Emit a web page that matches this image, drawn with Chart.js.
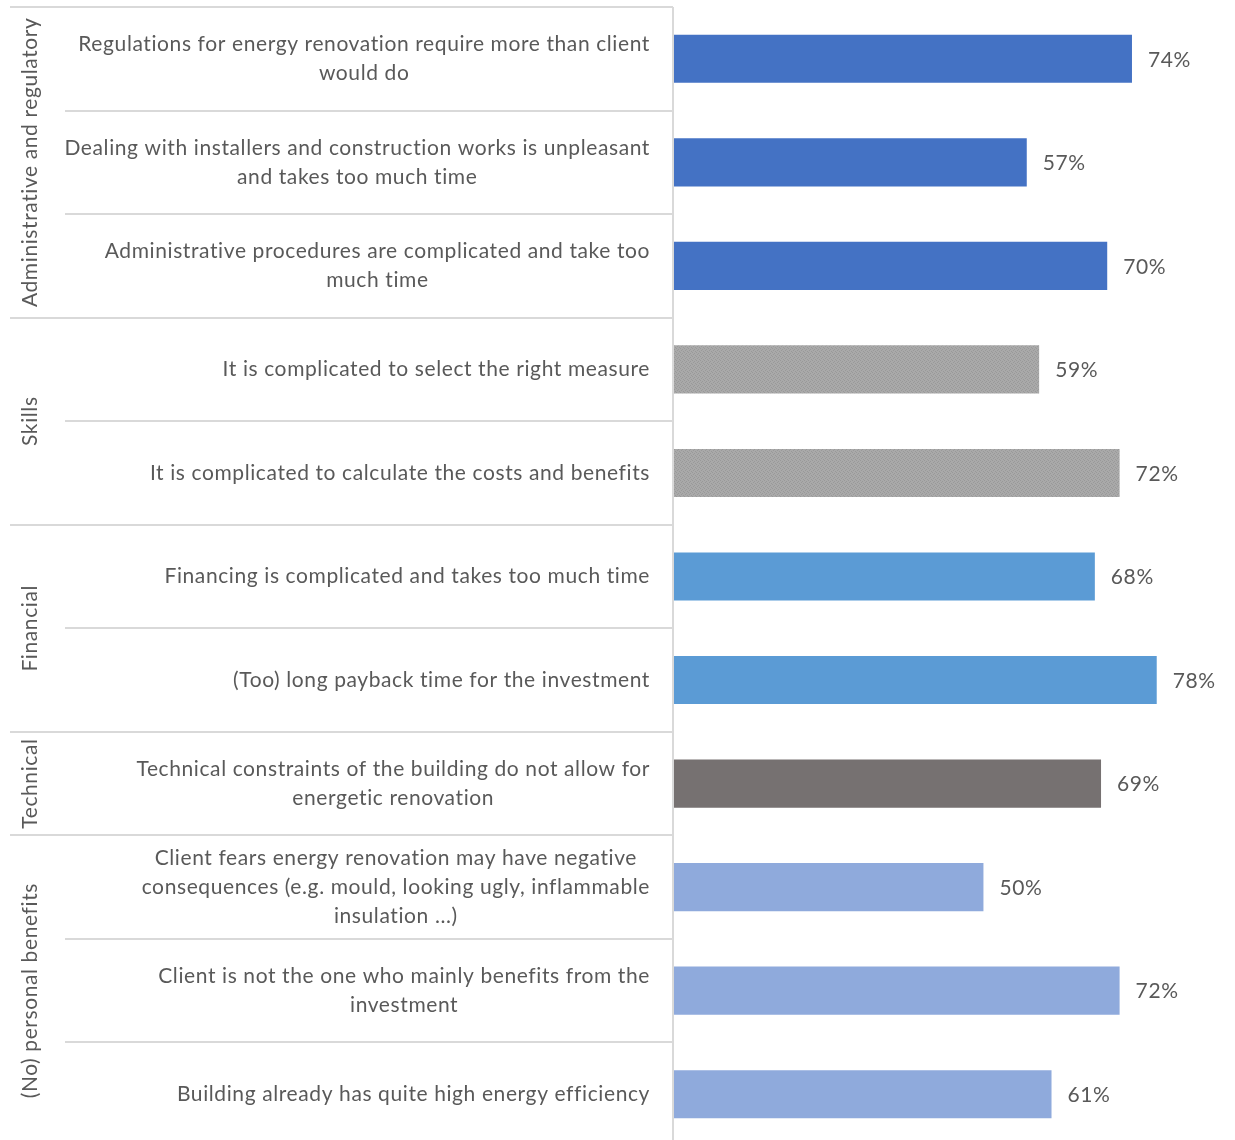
<!DOCTYPE html>
<html>
<head>
<meta charset="utf-8">
<script src="https://cdn.jsdelivr.net/npm/chart.js@4.4.1/dist/chart.umd.min.js"></script>
<style>
  html, body { margin: 0; padding: 0; background: #fff; overflow: hidden; }
  #wrap { width: 1235px; height: 1146px; position: relative; }
</style>
</head>
<body>
<div id="wrap"><canvas id="chart"></canvas></div>
<script>
const categories = [
  ["Regulations for energy renovation require more than client", "would do"],
  ["Dealing with installers and construction works is unpleasant", "and takes too much time"],
  ["Administrative procedures are complicated and take too", "much time"],
  ["It is complicated to select the right measure"],
  ["It is complicated to calculate the costs and benefits"],
  ["Financing is complicated and takes too much time"],
  ["(Too) long payback time for the investment"],
  ["Technical constraints of the building do not allow for", "energetic renovation"],
  ["Client fears energy renovation may have negative", "consequences (e.g. mould, looking ugly, inflammable", "insulation ...)"],
  ["Client is not the one who mainly benefits from the", "investment"],
  ["Building already has quite high energy efficiency"],
];
const values = [74, 57, 70, 59, 72, 68, 78, 69, 50, 72, 61];
const groupNames = ["Administrative and regulatory", "Skills", "Financial", "Technical", "(No) personal benefits"];
const groupSizes = [3, 2, 2, 1, 3];

const FONT = "21px Lato, 'Open Sans', sans-serif";
const TEXT = "#595959";
const LINE = "#d9d9d9";

// fine woven texture for the skills bars
function skillsPattern() {
  const c = document.createElement("canvas");
  c.width = 4; c.height = 4;
  const g = c.getContext("2d");
  g.fillStyle = "#a9a9a9";
  g.fillRect(0, 0, 4, 4);
  g.fillStyle = "#999999";
  g.fillRect(0, 0, 1, 1); g.fillRect(2, 1, 1, 1);
  g.fillRect(1, 2, 1, 1); g.fillRect(3, 3, 1, 1);
  return g.createPattern(c, "repeat");
}

const groupColors = ["#4472c4", skillsPattern(), "#5b9bd5", "#767171", "#8faadc"];
const barColors = [];
groupSizes.forEach((n, g) => { for (let i = 0; i < n; i++) barColors.push(groupColors[g]); });

const tableDecor = {
  id: "tableDecor",
  afterDatasetsDraw(chart) {
    const { ctx, chartArea: { top, bottom, left }, scales: { y } } = chart;
    const half = (y.getPixelForValue(1) - y.getPixelForValue(0)) / 2;
    ctx.save();
    ctx.strokeStyle = LINE;
    ctx.lineWidth = 2;

    // row separators; group separators run out to the group column
    const groupEnds = [];
    let acc = 0;
    groupSizes.forEach(n => { acc += n; groupEnds.push(acc); });
    ctx.beginPath();
    ctx.moveTo(10, top); ctx.lineTo(left - 1, top);
    for (let i = 1; i < categories.length; i++) {
      const yy = Math.round(y.getPixelForValue(i) - half);
      const x0 = groupEnds.includes(i) ? 10 : 65;
      ctx.moveTo(x0, yy); ctx.lineTo(left - 1, yy);
    }
    ctx.moveTo(left - 1, top); ctx.lineTo(left - 1, bottom);
    ctx.stroke();

    // category labels: centred lines, block right-aligned
    ctx.fillStyle = TEXT;
    ctx.font = FONT;
    ctx.letterSpacing = "0.6px";
    ctx.textBaseline = "middle";
    const lh = 29;
    categories.forEach((lines, i) => {
      const cy = y.getPixelForValue(i);
      const w = Math.max(...lines.map(s => ctx.measureText(s).width));
      const cx = 650 - w / 2;
      ctx.textAlign = "center";
      lines.forEach((s, k) => {
        ctx.fillText(s, cx, cy + (k - (lines.length - 1) / 2) * lh);
      });
    });

    // rotated group labels
    let start = 0;
    groupSizes.forEach((n, g) => {
      const y0 = y.getPixelForValue(start) - half;
      const y1 = y.getPixelForValue(start + n - 1) + half;
      ctx.save();
      ctx.translate(30, (y0 + y1) / 2);
      ctx.rotate(-Math.PI / 2);
      ctx.textAlign = "center";
      ctx.fillText(groupNames[g], 0, 0);
      ctx.restore();
      start += n;
    });

    // value labels at the bar ends
    const meta = chart.getDatasetMeta(0);
    ctx.textAlign = "left";
    meta.data.forEach((bar, i) => {
      ctx.fillText(values[i] + "%", bar.x + 16, bar.y + 1);
    });
    ctx.restore();
  },
};

new Chart(document.getElementById("chart"), {
  type: "bar",
  data: {
    labels: categories,
    datasets: [{
      data: values,
      backgroundColor: barColors,
      borderWidth: 0,
      categoryPercentage: 1,
      barPercentage: 0.465,
    }],
  },
  plugins: [tableDecor],
  options: {
    indexAxis: "y",
    responsive: true,
    maintainAspectRatio: false,
    animation: false,
    layout: { padding: { left: 674, right: 4, top: 7, bottom: 0 } },
    plugins: { legend: { display: false }, tooltip: { enabled: false } },
    scales: {
      x: { display: false, min: 0, max: 90 },
      y: { display: false },
    },
  },
});
</script>
</body>
</html>
